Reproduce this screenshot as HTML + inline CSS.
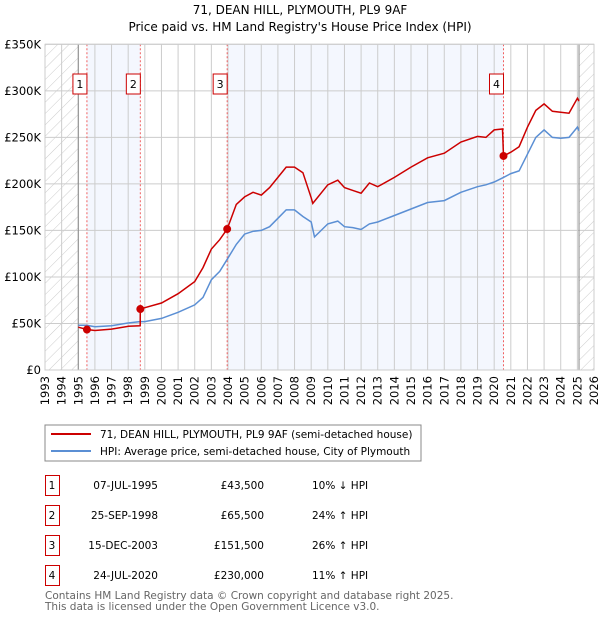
<!DOCTYPE html>
<html><head><meta charset="utf-8"><style>
body{margin:0;background:#fff;font-family:"DejaVu Sans","Liberation Sans",sans-serif;}
#wrap{position:relative;width:600px;height:620px;overflow:hidden;}
svg text{font-family:"DejaVu Sans","Liberation Sans",sans-serif;}
</style></head><body>
<div id="wrap">
<svg id="chart" width="600" height="620">
<defs><pattern id="hatch" width="8" height="8" patternUnits="userSpaceOnUse" patternTransform="rotate(45)"><line x1="0" y1="0" x2="0" y2="8" stroke="#ccc" stroke-width="1"/></pattern></defs>
<text x="300" y="14" text-anchor="middle" font-size="12">71, DEAN HILL, PLYMOUTH, PL9 9AF</text>
<text x="300" y="31" text-anchor="middle" font-size="12">Price paid vs. HM Land Registry's House Price Index (HPI)</text>
<g id="plot"></g>
<rect x="45" y="425" width="376" height="36" fill="#fff" stroke="#888"/>
<line x1="51" y1="434" x2="91" y2="434" stroke="#cc0000" stroke-width="2"/>
<text x="100" y="438" font-size="10.5">71, DEAN HILL, PLYMOUTH, PL9 9AF (semi-detached house)</text>
<line x1="51" y1="451" x2="91" y2="451" stroke="#5b8fd4" stroke-width="2"/>
<text x="100" y="455" font-size="10.5">HPI: Average price, semi-detached house, City of Plymouth</text>
<g id="table" font-size="10.5"></g>
<text x="45" y="599" font-size="10.5" fill="#666">Contains HM Land Registry data © Crown copyright and database right 2025.</text>
<text x="45" y="610" font-size="10.5" fill="#666">This data is licensed under the Open Government Licence v3.0.</text>
</svg>
</div>
<script>
const hpiDates=[1995.0,1995.5,1996,1997,1998,1998.7,1999,2000,2001,2002,2002.5,2003,2003.5,2003.95,2004.5,2005,2005.5,2006,2006.5,2007,2007.5,2008,2008.5,2009,2009.2,2010,2010.6,2011,2011.5,2012,2012.5,2013,2014,2015,2016,2017,2018,2019,2019.5,2020,2020.56,2021,2021.5,2022,2022.5,2023,2023.5,2024,2024.5,2025,2025.1];
const hpiValues=[48,48,46.5,47.5,50.5,52,52,55.5,62,70,78,97,106,119,135,146,149,150,154,163,172,172,165,159,143,157,160,154,153,151,157,159,166,173,180,182,191,197,199,202,207,211,214,232,250,258,250,249,250,261,257];
const redDates=[1995.0,1995.52,1996,1997,1998,1998.72,1998.73,1999,2000,2001,2002,2002.5,2003,2003.5,2003.95,2004.5,2005,2005.5,2006,2006.5,2007,2007.5,2008,2008.5,2009,2009.1,2010,2010.6,2011,2011.5,2012,2012.5,2013,2014,2015,2016,2017,2018,2019,2019.5,2020,2020.5,2020.56,2021,2021.5,2022,2022.5,2023,2023.5,2024,2024.5,2025,2025.1];
const redValues=[46,43.5,42.5,44,47,47.5,65.5,67,72,82,95,110,130,140,151.5,178,186,191,188,196,207,218,218,212,185,179,199,204,196,193,190,201,197,207,218,228,233,245,251,250,258,259,230,234,240,261,279,286,278,277,276,292,289];
const saleDates=[1995.52,1998.73,2003.95,2020.56];
const salePrices=[43.5,65.5,151.5,230];
const saleLabels=["1","2","3","4"];
const saleDateText=["07-JUL-1995","25-SEP-1998","15-DEC-2003","24-JUL-2020"];
const salePriceText=["£43,500","£65,500","£151,500","£230,000"];
const saleHpiText=["10% ↓ HPI","24% ↑ HPI","26% ↑ HPI","11% ↑ HPI"];
const yTicks=[0,50,100,150,200,250,300,350];
const yTickLabels=["£0","£50K","£100K","£150K","£200K","£250K","£300K","£350K"];
const xTicks=[1993,1994,1995,1996,1997,1998,1999,2000,2001,2002,2003,2004,2005,2006,2007,2008,2009,2010,2011,2012,2013,2014,2015,2016,2017,2018,2019,2020,2021,2022,2023,2024,2025,2026];

const X0=45,X1=594,Y0=370,Y1=44.3;
const xs=t=>X0+(t-1993)/(2026-1993)*(X1-X0);
const ys=v=>Y0-v/350*(Y0-Y1);
const NS="http://www.w3.org/2000/svg";
const plot=document.getElementById('plot');
function mk(tag,attrs,parent){const e=document.createElementNS(NS,tag);for(const k in attrs)e.setAttribute(k,attrs[k]);(parent||plot).appendChild(e);return e;}

let r=mk('rect',{x:X0,y:Y1,width:X1-X0,height:Y0-Y1,fill:'#fff'});


let s1=mk('rect',{x:xs(saleDates[0]),y:Y1,width:xs(saleDates[1])-xs(saleDates[0]),height:Y0-Y1,fill:'#f4f7fe'});


let s2=mk('rect',{x:xs(saleDates[2]),y:Y1,width:xs(saleDates[3])-xs(saleDates[2]),height:Y0-Y1,fill:'#f4f7fe'});


let h1=mk('rect',{x:X0,y:Y1,width:xs(1995)-X0,height:Y0-Y1,fill:'url(#hatch)'});


let h2=mk('rect',{x:xs(2025.1),y:Y1,width:X1-xs(2025.1),height:Y0-Y1,fill:'url(#hatch)'});


xTicks.forEach(t=>{
  let l=mk('line',{x1:xs(t),x2:xs(t),y1:Y1,y2:Y0,stroke:'#ccc'});
  
  
  let tx=mk('text',{x:0,y:0,'font-size':11.5,'text-anchor':'end',transform:`translate(${xs(t)+4},${Y0+6}) rotate(-90)`});
  tx.textContent=t;
  
  
});
yTicks.forEach((v,i)=>{
  let l=mk('line',{x1:X0,x2:X1,y1:ys(v),y2:ys(v),stroke:'#ccc'});
  
  
  let tx=mk('text',{x:X0-4,y:ys(v)+4,'font-size':11.5,'text-anchor':'end'});
  tx.textContent=yTickLabels[i];
  
  
});
[1995,2025.1].forEach(t=>{let l=mk('line',{x1:xs(t),x2:xs(t),y1:Y1,y2:Y0,stroke:'#888'});

});
saleDates.forEach((d,i)=>{
  let l=mk('line',{x1:xs(d),x2:xs(d),y1:Y1,y2:Y0,stroke:'#f06060','stroke-dasharray':'2,2'});
  
  
  let b=mk('rect',{x:xs(d)-14,y:74,width:14,height:20,fill:'#fff',stroke:'#cc0000'});
  
  
  let t=mk('text',{x:xs(d)-7,y:88,'font-size':11,'text-anchor':'middle'});
  t.textContent=saleLabels[i];
  
  
});
let pb=mk('path',{d:hpiDates.map((d,i)=>(i?'L':'M')+xs(d).toFixed(1)+','+ys(hpiValues[i]).toFixed(1)).join(''),fill:'none',stroke:'#5b8fd4','stroke-width':1.5});


let pr=mk('path',{d:redDates.map((d,i)=>(i?'L':'M')+xs(d).toFixed(1)+','+ys(redValues[i]).toFixed(1)).join(''),fill:'none',stroke:'#cc0000','stroke-width':1.5});


saleDates.forEach((d,i)=>{
  let c=mk('circle',{cx:xs(d),cy:ys(salePrices[i]),r:4,fill:'#cc0000'});
  
  
});
let fr=mk('rect',{x:X0,y:Y1,width:X1-X0,height:Y0-Y1,fill:'none',stroke:'#ccc'});



const tbl=document.getElementById('table');
saleLabels.forEach((lab,i)=>{
  const y=475+i*30;
  let b=mk('rect',{x:45.5,y:y+0.5,width:14,height:20,fill:'#fff',stroke:'#cc0000'},tbl);
  
  
  const cells=[[52,lab,'middle'],[158,saleDateText[i],'end'],[264,salePriceText[i],'end'],[312,saleHpiText[i],'start']];
  cells.forEach(c=>{let t=mk('text',{x:c[0],y:y+14,'text-anchor':c[2]},tbl);t.textContent=c[1];
  
  });
});
</script>
</body></html>
